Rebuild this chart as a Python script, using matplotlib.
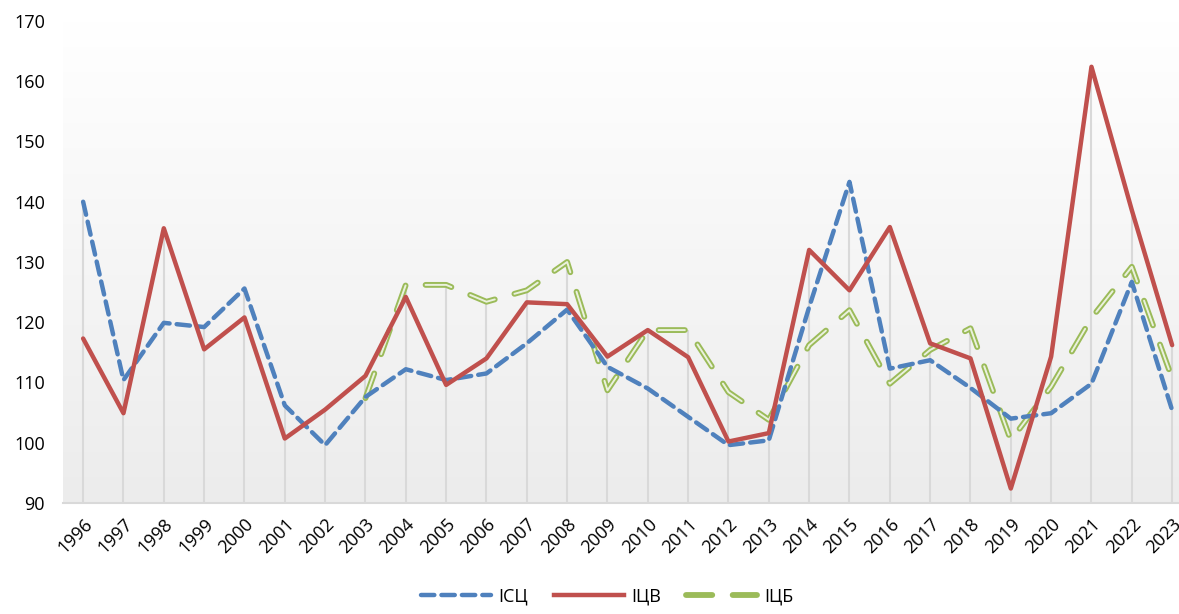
import numpy as np
import matplotlib
import matplotlib.pyplot as plt
from matplotlib.lines import Line2D

matplotlib.use('agg')

years = list(range(1996, 2024))
isc = [140.0, 110.4, 119.9, 119.2, 125.6, 106.2, 99.6, 107.6, 112.2, 110.4,
       111.5, 116.5, 122.1, 112.6, 109.0, 104.3, 99.6, 100.4, 122.5, 143.3,
       112.3, 113.7, 109.1, 104.0, 104.9, 109.8, 126.7, 105.4]
icv = [117.3, 104.9, 135.6, 115.5, 120.8, 100.7, 105.5, 111.1, 124.2, 109.6,
       114.0, 123.3, 123.0, 114.3, 118.7, 114.2, 100.2, 101.6, 132.0, 125.3,
       135.8, 116.5, 114.0, 92.4, 114.3, 162.4, 138.6, 116.2]
icb = [None, None, None, None, None, None, None, 107.4, 126.2, 126.2,
       123.4, 125.3, 130.0, 108.7, 118.7, 118.7, 108.4, 103.8, 116.2, 122.0,
       109.8, 115.4, 119.0, 100.4, 109.3, 120.7, 129.2, 110.7]
names = ['ІСЦ', 'ІЦВ', 'ІЦБ']

plt.rcParams['font.family'] = ['Open Sans', 'DejaVu Sans']

fig = plt.figure(figsize=[11.79, 6.14], dpi=100)
ax = fig.add_axes([0.0534, 0.1808, 0.9466, 0.785])

x = np.arange(len(years))
icb_arr = np.array([np.nan if v is None else v for v in icb])
top = np.nanmax(np.vstack([isc, icv, icb_arr]), axis=0)

# background gradient
grad = np.linspace(1.0, 0.0, 256).reshape(-1, 1)
ax.imshow(grad, cmap=matplotlib.colors.LinearSegmentedColormap.from_list(
    'bg', ['#ececec', '#ffffff']), aspect='auto',
    extent=[-0.5, 27.17, 90, 170], origin='upper', zorder=0,
    vmin=0, vmax=1)

# drop lines
ax.vlines(x, 90, top, color='#d9d9d9', lw=1.5, zorder=1)

blue = '#4f81bd'
red = '#c0504d'
green = '#9bbb59'

ax.plot(x, isc, color=blue, lw=3.2, dashes=(3, 1.6), dash_capstyle='round', zorder=3)
ax.plot(x, icv, color=red, lw=3.2, solid_capstyle='round', zorder=4)
ax.plot(x, icb_arr, color=green, lw=4.2, dashes=(4.5, 3.5), dash_capstyle='round', zorder=2)
ax.plot(x, icb_arr, color='white', lw=1.4, dashes=(13.5, 10.5), dash_capstyle='round',
        zorder=2.5, alpha=0.8)

ax.set_xlim(-0.5, 27.17)
ax.set_ylim(90, 170)
ax.set_yticks(range(90, 171, 10))
ax.set_xticks(x)
ax.set_xticklabels([str(y) for y in years], rotation=45, ha='right',
                   rotation_mode='anchor', fontsize=13)
ax.tick_params(axis='y', labelsize=13, length=0, pad=13)
ax.tick_params(axis='x', length=0, pad=9)
for s in ['top', 'right', 'left']:
    ax.spines[s].set_visible(False)
ax.spines['bottom'].set_color('#d9d9d9')
ax.spines['bottom'].set_linewidth(1.5)

handles = [
    Line2D([], [], color=blue, lw=3.2, dashes=(3, 1.6), dash_capstyle='round'),
    Line2D([], [], color=red, lw=3.2),
    Line2D([], [], color=green, lw=4.2, dashes=(4.5, 3.5), dash_capstyle='round'),
]
fig.legend(handles, names, loc='lower center', bbox_to_anchor=(0.515, -0.012),
           ncol=3, frameon=False, fontsize=13, handlelength=3.9, columnspacing=1.4,
           handletextpad=0.4)

plt.savefig('out.png', dpi=100)
plt.close()
